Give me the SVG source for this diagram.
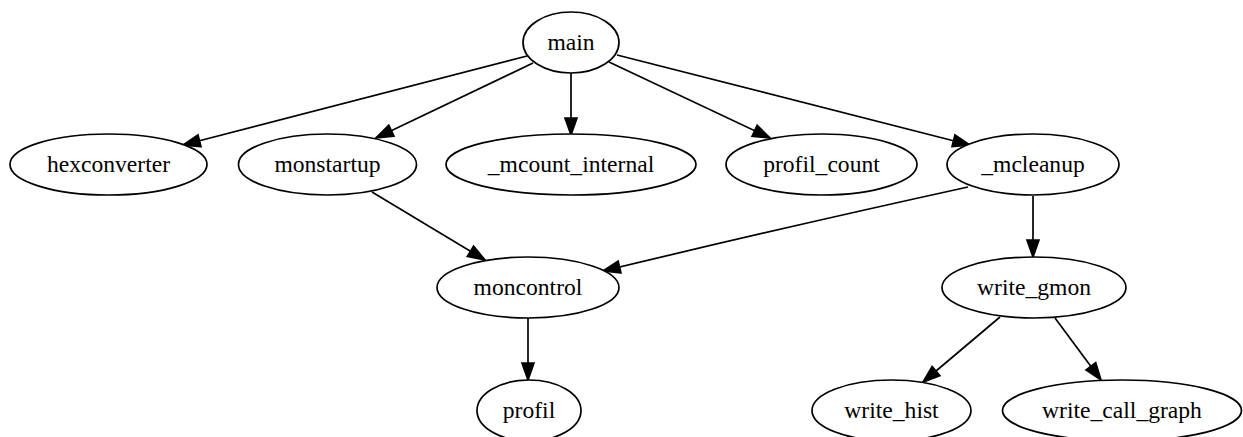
<svg xmlns="http://www.w3.org/2000/svg" width="1243" height="437" viewBox="0 0 1243 437">
  <style>
    .node ellipse { fill: #ffffff; stroke: #000000; stroke-width: 1.7; }
    .node text { font-family: "Liberation Serif", "Times New Roman", serif; font-size: 23.6px; fill: #000000; text-anchor: middle; }
    .edge { fill: none; stroke: #000000; stroke-width: 1.7; marker-end: url(#arrow); }
  </style>
  <defs>
    <marker id="arrow" markerUnits="userSpaceOnUse" markerWidth="20" markerHeight="14" refX="17" refY="6" orient="auto" overflow="visible">
      <path d="M0,0 L17,6 L0,12 Z" fill="#000000" stroke="#000000" stroke-width="1.7" stroke-linejoin="miter"/>
    </marker>
  </defs>
  <rect width="1243" height="437" fill="#ffffff"/>

  <!-- call edges -->
  <g id="connectors">
    <path class="edge" d="M527,56 L183,145"/>
    <path class="edge" d="M533,63 L376,138"/>
    <path class="edge" d="M571,73 L571,135"/>
    <path class="edge" d="M609,62 L770,138"/>
    <path class="edge" d="M617,55 L970,145"/>
    <path class="edge" d="M372,192 L485,260"/>
    <path class="edge" d="M968,187 Q790,226 603,271"/>
    <path class="edge" d="M1033,196 L1033,257"/>
    <path class="edge" d="M528,318 L528,380"/>
    <path class="edge" d="M1000,317 L923,382"/>
    <path class="edge" d="M1055,318 L1101,380"/>
  </g>

  <!-- functions -->
  <g id="main" class="node">
    <ellipse cx="571" cy="42.5" rx="48" ry="30.5"/>
    <text x="571" y="50">main</text>
  </g>
  <g id="hexconverter" class="node">
    <ellipse cx="108.5" cy="164.5" rx="98.5" ry="30.5"/>
    <text x="108.5" y="172">hexconverter</text>
  </g>
  <g id="monstartup" class="node">
    <ellipse cx="327.5" cy="164.5" rx="89" ry="30.5"/>
    <text x="327.5" y="172">monstartup</text>
  </g>
  <g id="mcount_internal" class="node">
    <ellipse cx="571" cy="164.5" rx="125" ry="30.5"/>
    <text x="571" y="172">_mcount_internal</text>
  </g>
  <g id="profil_count" class="node">
    <ellipse cx="821.5" cy="164.5" rx="95.5" ry="30.5"/>
    <text x="821.5" y="172">profil_count</text>
  </g>
  <g id="mcleanup" class="node">
    <ellipse cx="1033" cy="164.5" rx="86" ry="30.5"/>
    <text x="1033" y="172">_mcleanup</text>
  </g>
  <g id="moncontrol" class="node">
    <ellipse cx="528" cy="287.5" rx="91" ry="30.5"/>
    <text x="528" y="295">moncontrol</text>
  </g>
  <g id="write_gmon" class="node">
    <ellipse cx="1034" cy="287.5" rx="92" ry="30.5"/>
    <text x="1034" y="295">write_gmon</text>
  </g>
  <g id="profil" class="node">
    <ellipse cx="529" cy="410.5" rx="52" ry="30.5"/>
    <text x="529" y="418">profil</text>
  </g>
  <g id="write_hist" class="node">
    <ellipse cx="891.5" cy="410.5" rx="79.5" ry="30.5"/>
    <text x="891.5" y="418">write_hist</text>
  </g>
  <g id="write_call_graph" class="node">
    <ellipse cx="1122" cy="410.5" rx="119.5" ry="30.5"/>
    <text x="1122" y="418">write_call_graph</text>
  </g>
</svg>
